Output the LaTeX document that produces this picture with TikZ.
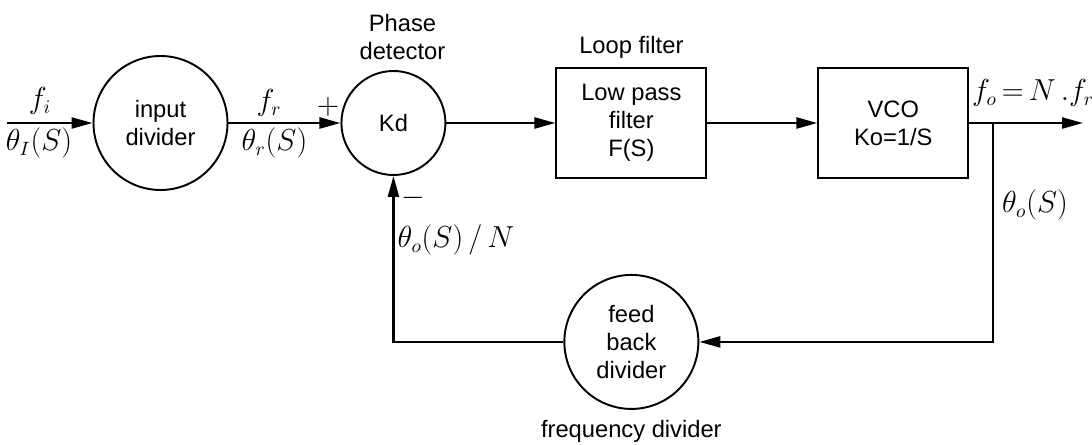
\documentclass[tikz,border=0pt]{standalone}
\usepackage{amsmath}
\usepackage{fontspec}
\setmainfont{Liberation Sans}
\usetikzlibrary{arrows.meta, positioning}

\begin{document}
\begin{tikzpicture}[node distance=2.2cm,
    blk/.style={circle, draw, line width=1.1pt, minimum size=2.68cm, align=center, font=\fontsize{13.5}{16}\selectfont},
    box/.style={rectangle, draw, line width=1.1pt, minimum width=3cm, minimum height=2.2cm, align=center, font=\fontsize{13.5}{16}\selectfont},
    sig/.style={line width=1.4pt, -{Triangle[length=0.42cm, width=0.22cm]}},
    lbl/.style={font=\fontsize{16}{19}\selectfont},
    txt/.style={align=center, font=\fontsize{13.5}{16}\selectfont}]
    \useasboundingbox (0,0) rectangle (21.84,-8.9);
    % blocks
    \node[blk] (in) at (3.21,-2.46) {input\\divider};
    \node[blk, minimum size=2.08cm, right=2.24cm of in] (pd) {Kd};
    \node[box, right=2.18cm of pd] (lpf) {Low pass\\filter\\F(S)};
    \node[box, right=of lpf] (vco) {VCO\\Ko=1/S};
    \node[blk, below=1.9cm of lpf] (fb) {feed\\back\\divider};
    % block titles
    \node[txt, above=0.08cm of pd, xshift=0.18cm] (pdname) {Phase\\detector};
    \node[txt, above=0.05cm of lpf] (lpfname) {Loop filter};
    \node[txt, below=0.08cm of fb] (fbname) {frequency divider};
    % free ends
    \coordinate (src) at (0.14,-2.46);
    \coordinate (out) at (21.66,-2.46);
    \coordinate (tap) at (19.86,-2.46);
    \coordinate (ret) at (tap |- fb);
    \coordinate (bend) at (pd |- fb);
    % signals
    \draw[sig] (src) -- (in);
    \draw[sig] (in) -- (pd);
    \draw[sig] (pd) -- (lpf);
    \draw[sig] (lpf) -- (vco);
    \draw[sig] (vco) -- (out);
    \draw[sig] (tap) -- (ret) -- (fb);
    \draw[sig] (fb) -- (bend) -- (pd);
    % signal labels
    \node[lbl] (fi) at (0.8,-2.02) {$f_i$};
    \node[lbl] (thi) at (0.78,-2.86) {$\theta_I(S)$};
    \node[lbl] (fr) at (5.38,-2.06) {$f_r$};
    \node[lbl] (thr) at (5.49,-2.86) {$\theta_r(S)$};
    \node[lbl] (plus) at (6.56,-2.14) {$+$};
    \node[lbl] (minus) at (8.26,-3.96) {$-$};
    \node[lbl] (thn) at (9.12,-4.8) {$\theta_o(S)\,/\,N$};
    \node[lbl] (tho) at (20.7,-4.1) {$\theta_o(S)$};
    \node[lbl] (fo) at (20.66,-1.86) {$f_o\,{=}\,N\,.f_r$};
\end{tikzpicture}
\end{document}
